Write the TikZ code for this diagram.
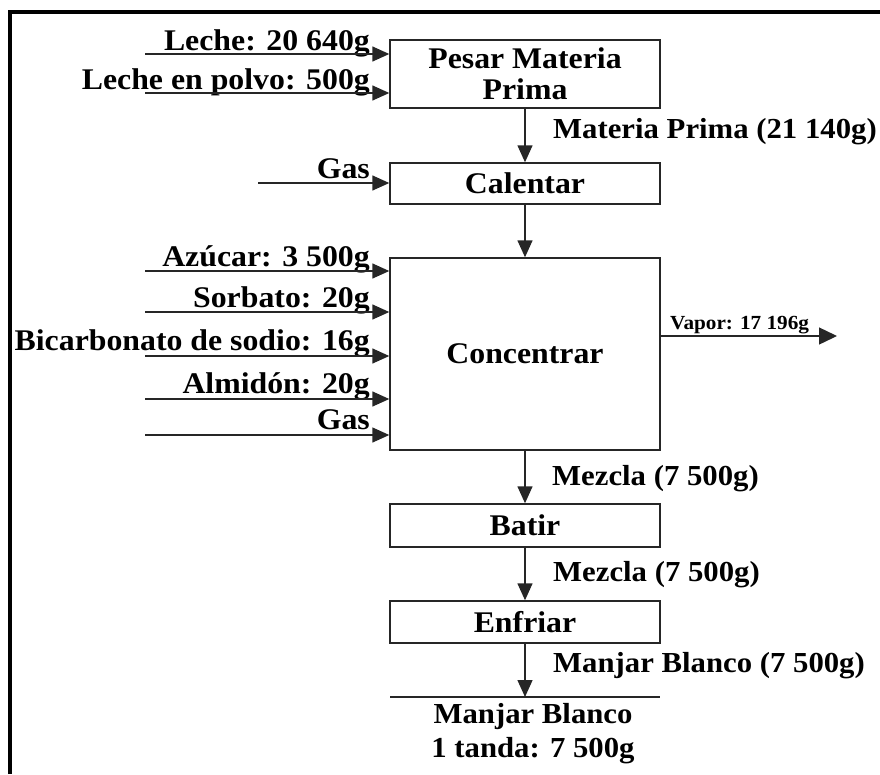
\documentclass[tikz,border=0pt]{standalone}
\usepackage{fontspec}
\setmainfont{Liberation Serif}[FakeStretch=1.06]
\usetikzlibrary{arrows.meta}
\begin{document}
\begin{tikzpicture}[x=1pt,y=-1pt,
  every node/.style={font=\fontsize{30}{33}\selectfont\bfseries},
  procbox/.style={draw=black!85, line width=1.4pt, minimum width=270pt, inner sep=0pt, align=center},
  flow/.style={draw=black!85, line width=1.4pt, -{Triangle[length=17pt,width=15pt]}},
  inlab/.style={anchor=base east, inner sep=0pt},
  outlab/.style={anchor=base west, inner sep=0pt, font=\fontsize{29}{33}\selectfont\bfseries},
  frame/.style={line width=4pt, black}]
\useasboundingbox (0,0) rectangle (880,774);
% frame
\draw[frame] (10,774) -- (10,12) -- (880,12);
% process boxes
\node[procbox, minimum height=68pt] (pesar) at (525,74) {Pesar Materia\\[-2pt]Prima};
\node[procbox, minimum height=41pt] (cal) at (525,183.5) {Calentar};
\node[procbox, minimum height=192pt] (conc) at (525,354) {Concentrar};
\node[procbox, minimum height=43pt] (batir) at (525,525.5) {Batir};
\node[procbox, minimum height=42pt] (enf) at (525,622) {Enfriar};
\coordinate (finl) at (390,697);
\coordinate (finr) at (660,697);
\coordinate (fin) at (525,697);
\draw[draw=black!85, line width=1.4pt] (finl) -- (finr);
\node[align=center, inner sep=0pt, anchor=north, font=\fontsize{29}{33}\selectfont\bfseries] (final) at (533,703) {Manjar Blanco\\[1pt]1 tanda: 7 500g};
% inputs to pesar
\coordinate (i1) at (145,54);
\coordinate (i2) at (145,93);
\node[inlab] (l1) at (370,50) {Leche: 20 640g};
\node[inlab] (l2) at (370,89) {Leche en polvo: 500g};
\draw[flow] (i1) -- (i1 -| pesar.west);
\draw[flow] (i2) -- (i2 -| pesar.west);
% gas to calentar
\coordinate (g1) at (258,183);
\node[inlab] (lg1) at (370,178) {Gas};
\draw[flow] (g1) -- (g1 -| cal.west);
% inputs to concentrar
\coordinate (c1) at (145,271);
\coordinate (c2) at (145,312);
\coordinate (c3) at (145,356);
\coordinate (c4) at (145,399);
\coordinate (c5) at (145,435);
\node[inlab] (lc1) at (370,266) {Azúcar: 3 500g};
\node[inlab] (lc2) at (370,307) {Sorbato: 20g};
\node[inlab] (lc3) at (370,350) {Bicarbonato de sodio: 16g};
\node[inlab] (lc4) at (370,393) {Almidón: 20g};
\node[inlab] (lc5) at (370,429) {Gas};
\foreach \c in {c1,c2,c3,c4,c5} \draw[flow] (\c) -- (\c -| conc.west);
% vapor
\coordinate (vap) at (837,336);
\draw[draw=black!85, line width=1.4pt, -{Triangle[length=18pt,width=17pt]}] (vap -| conc.east) -- (vap);
\node[outlab, font=\fontsize{20}{24}\selectfont\bfseries] (lv) at (670,329) {Vapor: 17 196g};
% main flow
\draw[flow] (pesar) -- (cal);
\draw[flow] (cal) -- (conc);
\draw[flow] (conc) -- (batir);
\draw[flow] (batir) -- (enf);
\draw[flow] (enf) -- (fin);
\node[outlab] (m1) at (553,138) {Materia Prima (21 140g)};
\node[outlab] (m2) at (552,485) {Mezcla (7 500g)};
\node[outlab] (m3) at (553,581) {Mezcla (7 500g)};
\node[outlab] (m4) at (553,672) {Manjar Blanco (7 500g)};
\end{tikzpicture}
\end{document}
